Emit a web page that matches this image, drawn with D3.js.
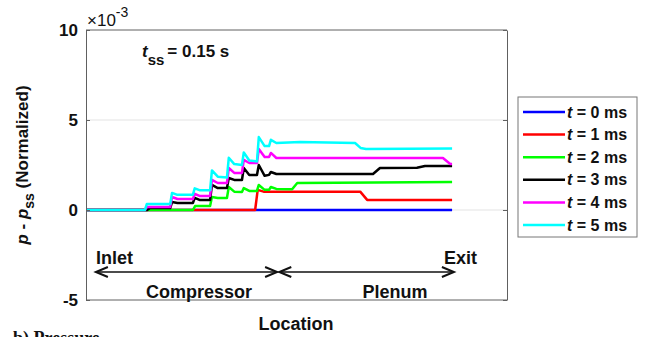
<!DOCTYPE html>
<html>
<head>
<meta charset="utf-8">
<script src="https://cdn.jsdelivr.net/npm/d3@7"></script>
<style>
  body { margin: 0; background: #fff; }
  text { font-family: "Liberation Sans", Arial, sans-serif; }
</style>
</head>
<body>
<div id="chart"></div>
<script>
// location along the machine (0 = inlet, 100 = exit), value = p - p_ss (x 1e-3)
var t0 = [[0, 0], [100, 0]];
var t1 = [[0, 0], [46.2, 0], [46.9, 1.12], [48.5, 1.02], [74.9, 1.02], [76.8, 0.56], [100, 0.56]];
var t2 = [[0, 0], [29.2, 0], [29.8, 0.22], [33.9, 0.22], [34.4, 0.72], [36, 0.67], [38.5, 0.67], [39, 1.28], [40.5, 1.02],
  [42.6, 1.0], [43.1, 1.22], [44.6, 1.06], [46.7, 1.06], [47.2, 1.39], [48.8, 1.12], [50, 1.12], [50.5, 1.28],
  [52, 1.17], [56.3, 1.15], [57.7, 1.5], [100, 1.56]];
var t3 = [[0, 0], [16.7, 0], [17.5, 0.11], [23, 0.11], [23.5, 0.44], [25, 0.39], [29.2, 0.39], [29.7, 0.67], [31, 0.56],
  [33.9, 0.56], [34.4, 1.39], [36, 1.22], [38.5, 1.22], [39, 1.78], [40.5, 1.67], [42.6, 1.67], [43.1, 2.33],
  [44.6, 1.94], [46.7, 1.94], [47.2, 2.5], [48.8, 1.9], [50, 1.95], [50.5, 2.11], [52, 2.0], [78.4, 2.0],
  [80.3, 2.33], [90.4, 2.35], [92.6, 2.44], [100, 2.44]];
var t4 = [[0, 0], [16.1, 0], [16.6, 0.17], [23, 0.17], [23.5, 0.72], [25, 0.61], [29.2, 0.61], [29.7, 0.9], [31, 0.78],
  [33.9, 0.78], [34.4, 1.67], [36, 1.5], [38.5, 1.5], [39, 2.33], [40.5, 2.06], [42.6, 2.06], [43.1, 2.78],
  [44.6, 2.61], [46.7, 2.61], [47.2, 3.39], [48.8, 2.94], [50, 2.94], [50.5, 3.17], [52, 2.89], [97.5, 2.89],
  [99.5, 2.56], [100, 2.56]];
var t5 = [[0, 0], [16.1, 0], [16.6, 0.33], [23, 0.33], [23.5, 0.95], [24.8, 0.85], [29.2, 0.85], [29.7, 1.2], [31, 1.1],
  [33.9, 1.1], [34.4, 2.2], [36, 1.85], [38.5, 1.8], [39, 2.9], [40.5, 2.55], [42.6, 2.5], [43.1, 3.2],
  [44.6, 2.75], [46.7, 2.7], [47.2, 4.05], [48.8, 3.55], [50, 3.55], [50.5, 3.9], [52, 3.72], [58.5, 3.78],
  [73.5, 3.72], [75, 3.45], [76.5, 3.39], [100, 3.42]];

var seriesNames = ['0', '1', '2', '3', '4', '5'];
var seriesData = [t0, t1, t2, t3, t4, t5];
var colors = ['#0000ff', '#ff0000', '#00ff00', '#000000', '#ff00ff', '#00ffff'];
var yTicks = [-5, 0, 5, 10];

var w = 648, h = 337;
var plotL = 86, plotR = 507, plotT = 30, plotB = 300;

var svg = d3.select('#chart').append('svg')
  .attr('width', w)
  .attr('height', h);

var x = d3.scaleLinear().domain([0, 115]).range([plotL, plotR]);
var y = d3.scaleLinear().domain([-5, 10]).range([plotB, plotT]);

// grid
svg.selectAll('.grid')
  .data([0, 5])
  .enter()
  .append('line')
  .attr('x1', plotL).attr('x2', plotR)
  .attr('y1', function(d) { return y(d); })
  .attr('y2', function(d) { return y(d); })
  .style('stroke', '#e3e3e3')
  .style('stroke-width', 1);

// lines
var line = d3.line()
  .x(function(d) { return x(d[0]); })
  .y(function(d) { return y(d[1]); });

svg.selectAll('.series')
  .data(seriesData)
  .enter()
  .append('path')
  .attr('d', line)
  .attr('fill', 'none')
  .attr('stroke', function(d, i) { return colors[i]; })
  .attr('stroke-width', 2.5)
  .attr('stroke-linejoin', 'round');

// axes box
var axisColor = '#606060';
var yAxis = svg.append('g')
  .attr('transform', 'translate(' + plotL + ',0)')
  .call(d3.axisLeft(y).tickValues(yTicks).tickSizeInner(-4).tickSizeOuter(0).tickPadding(8)
    .tickFormat(function(d) { return String(d); }));
yAxis.select('.domain').attr('stroke', axisColor);
yAxis.selectAll('.tick line').attr('stroke', axisColor);
yAxis.selectAll('.tick text')
  .style('font-size', '17px')
  .style('font-weight', 'bold')
  .attr('fill', '#111');

var yAxisR = svg.append('g')
  .attr('transform', 'translate(' + plotR + ',0)')
  .call(d3.axisRight(y).tickValues(yTicks).tickSizeInner(-4).tickSizeOuter(0).tickFormat(''));
yAxisR.select('.domain').attr('stroke', axisColor);
yAxisR.selectAll('.tick line').attr('stroke', axisColor);

svg.append('line').attr('x1', plotL).attr('x2', plotR).attr('y1', plotT).attr('y2', plotT)
  .style('stroke', axisColor);
svg.append('line').attr('x1', plotL).attr('x2', plotR).attr('y1', plotB).attr('y2', plotB)
  .style('stroke', axisColor);

// exponent label
var expo = svg.append('text')
  .attr('x', 87).attr('y', 26)
  .style('font-size', '17px')
  .attr('fill', '#111');
expo.append('tspan').text('\u00d710');
expo.append('tspan').attr('dy', -9).style('font-size', '14px').text('-3');

// t_ss annotation
var tss = svg.append('text')
  .attr('x', 142).attr('y', 57)
  .style('font-size', '17px')
  .style('font-weight', 'bold')
  .attr('fill', '#111');
tss.append('tspan').style('font-style', 'italic').text('t');
tss.append('tspan').attr('dy', 8).style('font-size', '15px').text('ss');
tss.append('tspan').attr('dy', -8).attr('dx', 3).text('= 0.15 s');

// y label
var ylab = svg.append('text')
  .attr('transform', 'translate(28,165) rotate(-90)')
  .attr('text-anchor', 'middle')
  .style('font-size', '17px')
  .style('font-weight', 'bold')
  .attr('fill', '#111');
ylab.append('tspan').style('font-style', 'italic').text('p');
ylab.append('tspan').text(' - ');
ylab.append('tspan').style('font-style', 'italic').text('p');
ylab.append('tspan').attr('dy', 6).style('font-size', '14px').text('ss');
ylab.append('tspan').attr('dy', -6).text(' (Normalized)');

// x label
svg.append('text')
  .attr('x', 296).attr('y', 330)
  .attr('text-anchor', 'middle')
  .style('font-size', '18px')
  .style('font-weight', 'bold')
  .attr('fill', '#111')
  .text('Location');

// region annotations
var ann = [
  { t: 'Inlet', x: 96, y: 264, a: 'start' },
  { t: 'Exit', x: 477, y: 264, a: 'end' },
  { t: 'Compressor', x: 199, y: 298, a: 'middle' },
  { t: 'Plenum', x: 395, y: 298, a: 'middle' }
];
svg.selectAll('.ann')
  .data(ann)
  .enter()
  .append('text')
  .attr('x', function(d) { return d.x; })
  .attr('y', function(d) { return d.y; })
  .attr('text-anchor', function(d) { return d.a; })
  .style('font-size', '18px')
  .style('font-weight', 'bold')
  .attr('fill', '#111')
  .text(function(d) { return d.t; });

// double arrows (location units)
var arrows = [[2.7, 52.2], [52.8, 100.5]];
var ay = 272;
arrows.forEach(function(a) {
  var x1 = x(a[0]), x2 = x(a[1]);
  svg.append('line').attr('x1', x1).attr('x2', x2).attr('y1', ay).attr('y2', ay)
    .style('stroke', '#111').style('stroke-width', 1.5);
  svg.append('path')
    .attr('d', 'M' + (x1 + 12) + ',' + (ay - 5) + 'L' + x1 + ',' + ay + 'L' + (x1 + 12) + ',' + (ay + 5))
    .attr('fill', 'none').attr('stroke', '#111').attr('stroke-width', 2);
  svg.append('path')
    .attr('d', 'M' + (x2 - 12) + ',' + (ay - 5) + 'L' + x2 + ',' + ay + 'L' + (x2 - 12) + ',' + (ay + 5))
    .attr('fill', 'none').attr('stroke', '#111').attr('stroke-width', 2);
});

// legend
var lg = svg.append('g').attr('transform', 'translate(518,97)');
lg.append('rect')
  .attr('width', 119).attr('height', 140)
  .attr('fill', '#fff')
  .attr('stroke', '#777');
var items = lg.selectAll('.item')
  .data(seriesNames)
  .enter()
  .append('g')
  .attr('transform', function(d, i) { return 'translate(0,' + (15 + i * 22.6) + ')'; });
items.append('line')
  .attr('x1', 5).attr('x2', 47)
  .attr('stroke', function(d, i) { return colors[i]; })
  .attr('stroke-width', 2.5);
var lt = items.append('text')
  .attr('x', 49).attr('y', 5.5)
  .style('font-size', '16px')
  .style('font-weight', 'bold')
  .attr('fill', '#111');
lt.append('tspan').style('font-style', 'italic').text('t');
lt.append('tspan').text(function(d) { return ' = ' + d + ' ms'; });

// caption, cut off at the bottom edge
svg.append('text')
  .attr('x', 13).attr('y', 344)
  .style('font-family', '"Liberation Serif", "Times New Roman", serif')
  .style('font-size', '18px')
  .style('font-weight', 'bold')
  .attr('fill', '#111')
  .text('b) Pressure');
</script>
</body>
</html>
